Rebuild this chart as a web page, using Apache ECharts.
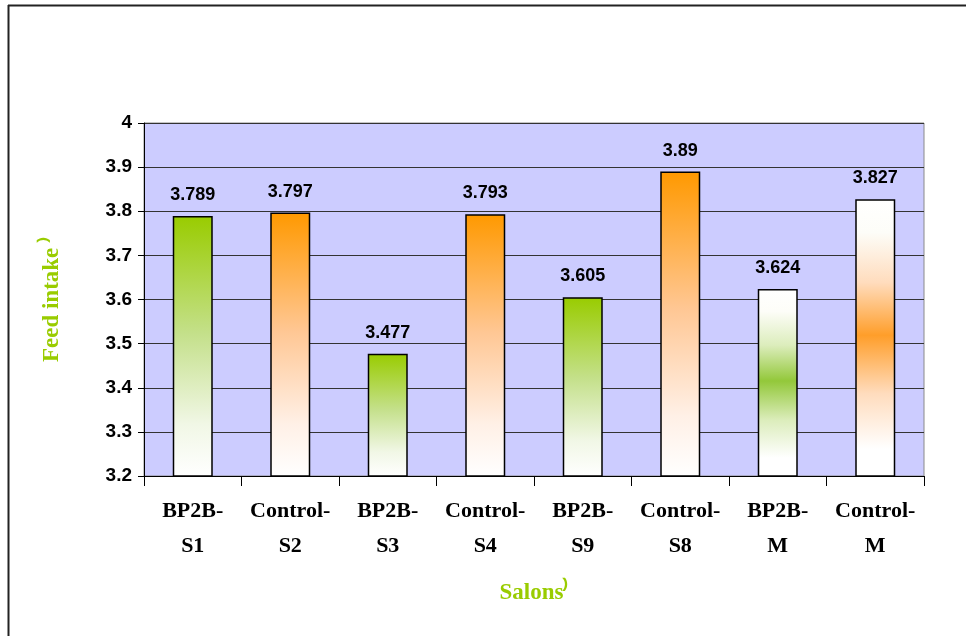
<!DOCTYPE html>
<html>
<head>
<meta charset="utf-8">
<script src="https://cdn.jsdelivr.net/npm/echarts@6/dist/echarts.min.js"></script>
<style>html,body{margin:0;padding:0;background:#fff;}#c{width:966px;height:636px;}</style>
</head>
<body>
<div id="c"></div>
<script>
const categories = ['BP2B-\nS1', 'Control-\nS2', 'BP2B-\nS3', 'Control-\nS4', 'BP2B-\nS9', 'Control-\nS8', 'BP2B-\nM', 'Control-\nM'];
const values = [3.789, 3.797, 3.477, 3.793, 3.605, 3.89, 3.624, 3.827];
const groups = ['green', 'orange', 'green', 'orange', 'green', 'orange', 'green', 'orange'];
const styles = ['top', 'top', 'top', 'top', 'top', 'top', 'mid', 'mid'];
const yTicks = [3.2, 3.3, 3.4, 3.5, 3.6, 3.7, 3.8, 3.9, 4];

const GREEN = '#99CC00', ORANGE = '#FF9900';
function grad(g, s) {
  const c = g === 'green' ? GREEN : ORANGE;
  const c2 = g === 'green' ? '#93C83A' : '#FF9E2A';
  if (s === 'top') {
    return new echarts.graphic.LinearGradient(0, 0, 0, 1, [
      {offset: 0, color: c},
      {offset: 0.45, color: g === 'green' ? '#c4e08a' : '#ffc794'},
      {offset: 0.8, color: g === 'green' ? '#f1f7e6' : '#fff0e6'},
      {offset: 1, color: '#ffffff'}
    ]);
  }
  return new echarts.graphic.LinearGradient(0, 0, 0, 1, [
    {offset: 0, color: '#ffffff'},
    {offset: 0.12, color: '#fdfdf8'},
    {offset: 0.3, color: g === 'green' ? '#dcedbc' : '#ffdcbd'},
    {offset: 0.49, color: c2},
    {offset: 0.7, color: g === 'green' ? '#dcedbc' : '#ffdcbd'},
    {offset: 0.9, color: '#ffffff'},
    {offset: 1, color: '#ffffff'}
  ]);
}

const chart = echarts.init(document.getElementById('c'), null, {renderer: 'canvas'});
chart.setOption({
  animation: false,
  backgroundColor: '#ffffff',
  grid: {left: 144, right: 42, top: 123, bottom: 160, show: true, backgroundColor: '#CCCCFF', borderColor: '#8a8a8a', borderWidth: 1},
  xAxis: {
    type: 'category',
    data: categories,
    axisLine: {show: true, lineStyle: {color: '#000', width: 1}},
    axisTick: {show: true, length: 10, lineStyle: {color: '#000'}},
    axisLabel: {fontFamily: 'Liberation Serif', fontWeight: 'bold', fontSize: 22, color: '#000', lineHeight: 35, margin: 18, interval: 0},
    name: 'Salons\u207E',
    nameLocation: 'middle',
    nameGap: 106,
    nameTextStyle: {fontFamily: 'Liberation Serif', fontWeight: 'bold', fontSize: 23, color: GREEN}
  },
  yAxis: {
    type: 'value',
    min: 3.2, max: 4, interval: 0.1,
    axisLine: {show: true, lineStyle: {color: '#000', width: 1}},
    axisTick: {show: true, length: 6, lineStyle: {color: '#000'}},
    axisLabel: {fontFamily: 'Liberation Sans', fontWeight: 'bold', fontSize: 19, color: '#000', margin: 12,
      formatter: v => { const t = yTicks.find(x => Math.abs(x - v) < 1e-6); return t === undefined ? '' : String(t); }},
    splitLine: {show: true, lineStyle: {color: '#333', width: 1}},
    name: 'Feed intake \u207E',
    nameLocation: 'middle',
    nameGap: 80,
    nameTextStyle: {fontFamily: 'Liberation Serif', fontWeight: 'bold', fontSize: 23, color: GREEN}
  },
  series: [{
    type: 'bar',
    barWidth: 40,
    data: values.map((v, i) => ({value: v, itemStyle: {color: grad(groups[i], styles[i])}})),
    itemStyle: {borderColor: '#000', borderWidth: 1.5},
    label: {show: true, position: 'top', distance: 12, fontFamily: 'Liberation Sans', fontWeight: 'bold', fontSize: 18, color: '#000',
      formatter: p => String(p.value)}
  }],
  graphic: [
    {type: 'line', shape: {x1: 8.5, y1: 5, x2: 8.5, y2: 636}, style: {stroke: '#222', lineWidth: 2}, z: 100},
    {type: 'line', shape: {x1: 8, y1: 5.5, x2: 966, y2: 5.5}, style: {stroke: '#222', lineWidth: 2}, z: 100}
  ]
});
</script>
</body>
</html>
